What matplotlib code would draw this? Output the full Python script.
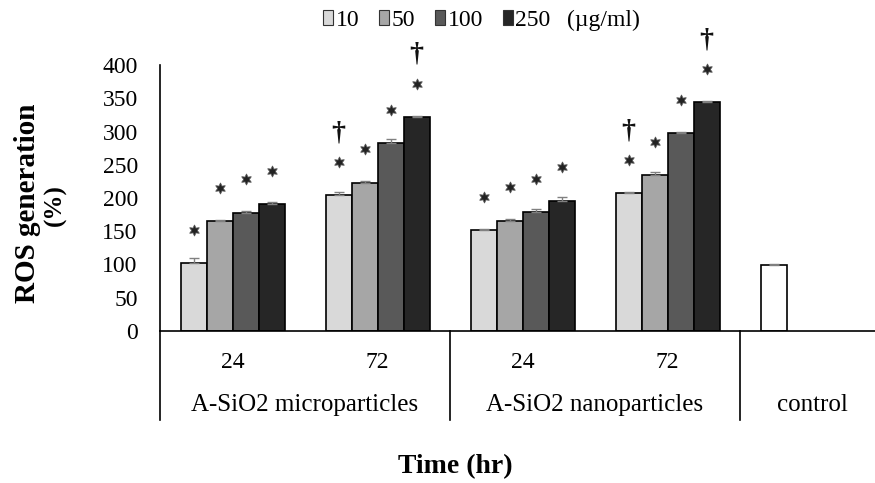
import matplotlib
matplotlib.use('Agg')
import matplotlib.pyplot as plt
from matplotlib.patches import Patch

# ---------------- data ----------------
time_labels = ['24', '72', '24', '72']
group_labels = ['A-SiO2 microparticles', 'A-SiO2 nanoparticles', 'control']
concentrations = ['10', '50', '100', '250']
unit_label = '(µg/ml)'

ros_10 = [102, 204, 152, 207]
ros_50 = [165, 223, 166, 234]
ros_100 = [178, 283, 179, 297]
ros_250 = [191, 322, 196, 344]
err_10 = [8, 5, 2, 2]
err_50 = [2, 2, 2, 5]
err_100 = [2, 6, 5, 2]
err_250 = [3, 2, 5, 2]
control_value = [99]
control_err = [2]

star_10 = [True, True, True, True]
star_50 = [True, True, True, True]
star_100 = [True, True, True, True]
star_250 = [True, True, True, True]
dagger_10 = [False, True, False, True]
dagger_50 = [False, False, False, False]
dagger_100 = [False, False, False, False]
dagger_250 = [False, True, False, True]

# ---------------- style ----------------
plt.rcParams['font.family'] = ['Liberation Serif', 'DejaVu Serif']
colors = ['#d9d9d9', '#a6a6a6', '#595959', '#262626']
W, H = 875, 483

def fx(px):
    return px / W

def fy(py):
    return 1 - py / H

fig = plt.figure(figsize=(W / 100, H / 100), dpi=100)
ax = fig.add_axes([fx(160), fy(331), 725 / W, 266 / H])

series = [ros_10, ros_50, ros_100, ros_250]
errs = [err_10, err_50, err_100, err_250]
stars = [star_10, star_50, star_100, star_250]
daggers = [dagger_10, dagger_50, dagger_100, dagger_250]
bw = 26 / 145
n = len(time_labels)

handles = []
for j, (vals, er, col) in enumerate(zip(series, errs, colors)):
    xs = [i + 0.5 + (j - 1.5) * bw for i in range(n)]
    ax.bar(xs, vals, width=bw, color=col, edgecolor='black', linewidth=1.2, zorder=2)
    ax.errorbar(xs, vals, yerr=[[0] * n, er], fmt='none', ecolor='#808080',
                elinewidth=1.0, capsize=3.6, capthick=1.0, zorder=3)
    for i in range(n):
        sy = vals[i] + 50
        if stars[j][i]:
            ax.plot(xs[i], sy, marker=(6, 1, 0), markersize=8, color='#222222',
                    markeredgecolor='#555555', markeredgewidth=0.6, clip_on=False, zorder=4)
        if daggers[j][i]:
            ax.text(xs[i], sy + 44, '†', ha='center', va='center', fontsize=20,
                    fontweight='bold', color='#111111', clip_on=False)
    handles.append(Patch(facecolor=col, edgecolor='#333333', linewidth=0.8))

# control bar (first series position of the last category)
cx = [n + 0.5 - 1.5 * bw]
ax.bar(cx, control_value, width=bw, color='white', edgecolor='black', linewidth=1.2, zorder=2)
ax.errorbar(cx, control_value, yerr=[[0], control_err], fmt='none', ecolor='#808080',
            elinewidth=1.0, capsize=3.6, capthick=1.0, zorder=3)

ax.set_xlim(0, 5)
ax.set_ylim(0, 400)
ax.set_yticks(range(0, 401, 50))
ax.tick_params(axis='y', length=0, pad=16, labelsize=17)
ax.set_xticks([])
for s in ['top', 'right']:
    ax.spines[s].set_visible(False)
ax.spines['left'].set_linewidth(1.2)
ax.spines['bottom'].set_linewidth(1.2)

# multi-level category axis
xt = ax.get_xaxis_transform()
sep_bottom = -(420 - 331) / 266
for xsep in [0, 2, 4, 5]:
    ax.plot([xsep, xsep], [0, sep_bottom], transform=xt, color='black', lw=1.2, clip_on=False)
for i, lab in enumerate(time_labels):
    ax.text(i + 0.5, -(363 - 331) / 266, lab, transform=xt, ha='center', va='center', fontsize=17)
for xc, lab in zip([1.0, 3.0, 4.5], group_labels):
    ax.text(xc, -(405 - 331) / 266, lab, transform=xt, ha='center', va='center', fontsize=18)

# axis titles
fig.text(fx(455), fy(467), 'Time (hr)', ha='center', va='center', fontsize=20, fontweight='bold')
fig.text(fx(35), fy(203), 'ROS generation', rotation=90, rotation_mode='anchor',
         ha='center', va='baseline', fontsize=21, fontweight='bold')
fig.text(fx(61), fy(205), '(%)', rotation=90, rotation_mode='anchor',
         ha='center', va='baseline', fontsize=18, fontweight='bold')

# legend
fig.legend(handles, concentrations, loc='center', bbox_to_anchor=(fx(437), fy(20)),
           ncol=4, frameon=False, fontsize=17, handlelength=0.42, handleheight=0.6,
           handletextpad=0.1, columnspacing=0.85, borderpad=0, borderaxespad=0)
fig.text(fx(567), fy(20), unit_label, ha='left', va='center', fontsize=17)

fig.savefig('out.png', dpi=100)
